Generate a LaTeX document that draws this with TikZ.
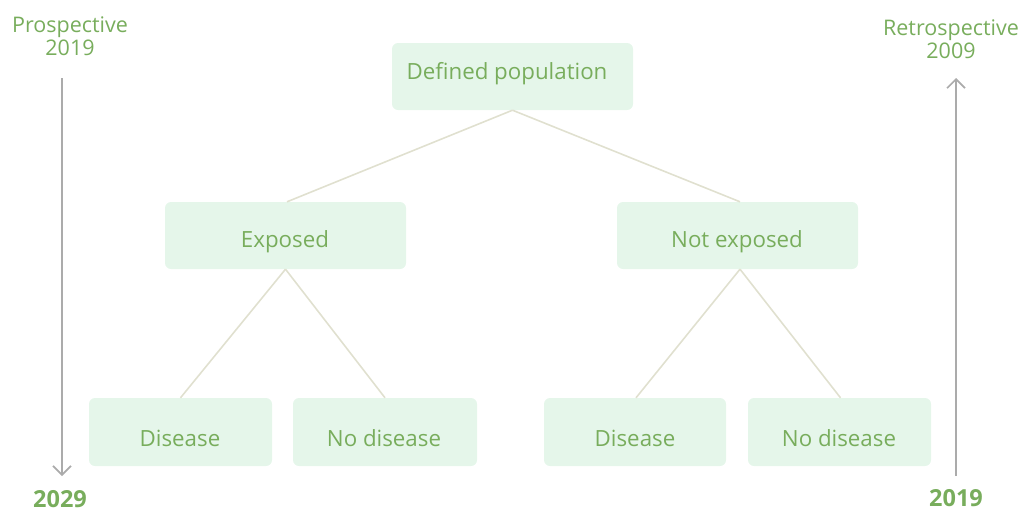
\documentclass[tikz,border=0pt]{standalone}
\usepackage{fontspec}
\setmainfont{Open Sans}
\usetikzlibrary{arrows.meta}
\definecolor{boxfill}{HTML}{E5F6EA}
\definecolor{txtgreen}{HTML}{78AD5C}
\definecolor{linkcol}{HTML}{E0E0CF}
\definecolor{arrgray}{HTML}{ABABAB}
\tikzset{
  box/.style={fill=boxfill, draw=none, rounded corners=6pt, minimum height=67pt, inner sep=0pt},
  boxtext/.style={text=txtgreen, font=\fontsize{22.3}{26}\selectfont, inner sep=0pt},
  link/.style={draw=linkcol, line width=1.6pt},
  timearrow/.style={draw=arrgray, line width=1.6pt, -{Straight Barb[length=9pt,width=18pt,line width=1.6pt]}},
  lbl/.style={text=txtgreen, font=\fontsize{21.5}{23}\selectfont, align=center, inner sep=0pt},
  yearlbl/.style={text=txtgreen, font=\bfseries\fontsize{23.5}{26}\selectfont, inner sep=0pt}
}
\begin{document}
\begin{tikzpicture}[x=1pt,y=-1pt]
\useasboundingbox (0,0) rectangle (1024,512);
\node[box, minimum width=241pt] (pop) at (512.5,76.5) {};
\node[boxtext] (poptext) at (507,74) {Defined population};
\node[box, minimum width=241pt] (exp) at (285.5,235.5) {};
\node[boxtext] (exptext) at (285,241.5) {Exposed};
\node[box, minimum width=241pt] (nexp) at (737.5,235.5) {};
\node[boxtext] (nexptext) at (737,241.5) {Not exposed};
\node[box, minimum width=183pt, minimum height=68pt] (d1) at (180.5,432) {};
\node[boxtext] (d1t) at (180,438.5) {Disease};
\node[box, minimum width=184pt, minimum height=68pt] (n1) at (385,432) {};
\node[boxtext] (n1t) at (384,438.5) {No disease};
\node[box, minimum width=182pt, minimum height=68pt] (d2) at (635,432) {};
\node[boxtext] (d2t) at (635,438.5) {Disease};
\node[box, minimum width=183pt, minimum height=68pt] (n2) at (839.5,432) {};
\node[boxtext] (n2t) at (839,438.5) {No disease};
% connectors
\draw[link] (pop.south) -- ([xshift=1.5pt]exp.north);
\draw[link] (pop.south) -- ([xshift=2.5pt]nexp.north);
\draw[link] (exp.south) -- (d1.north);
\draw[link] (exp.south) -- (n1.north);
\draw[link] ([xshift=2.5pt]nexp.south) -- ([xshift=1pt]d2.north);
\draw[link] ([xshift=2.5pt]nexp.south) -- ([xshift=1pt]n2.north);
% time arrows
\coordinate (la) at (62,78);
\coordinate (lb) at (62,476);
\draw[timearrow] (la) -- (lb);
\coordinate (ra) at (956,476);
\coordinate (rb) at (956,78);
\draw[timearrow] (ra) -- (rb);
\node[lbl] (pro) at (70,36) {Prospective\\2019};
\node[lbl] (retro) at (951,39.5) {Retrospective\\2009};
\node[yearlbl] (y1) at (60,499) {2029};
\node[yearlbl] (y2) at (956,498.5) {2019};
\end{tikzpicture}
\end{document}
